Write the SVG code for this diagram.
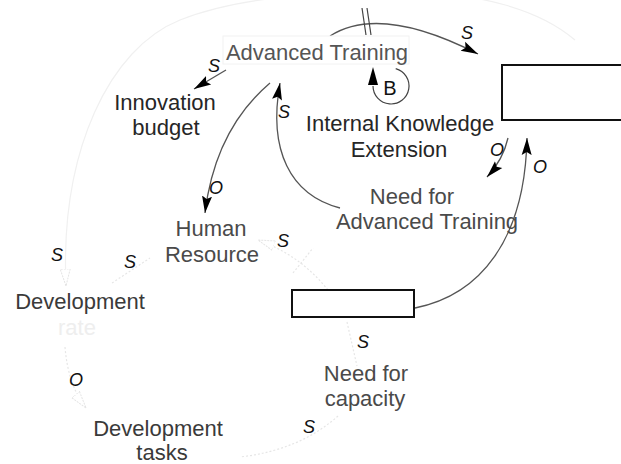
<svg xmlns="http://www.w3.org/2000/svg" width="621" height="464" viewBox="0 0 621 464">
<style>
  .node { font-family: "Liberation Sans", Arial, sans-serif; font-size: 22px; text-anchor: middle; }
  .dark { fill: #262626; }
  .mid { fill: #4a4a4a; }
  .faint { fill: #eeeeee; }
  .lbl { font-family: "Liberation Sans", Arial, sans-serif; font-size: 18px; font-style: italic; fill: #111; text-anchor: middle; }
  .link { fill: none; stroke: #555; stroke-width: 1.3; }
  .flink { fill: none; stroke: #e6e6e6; stroke-width: 1.2; stroke-dasharray: 2 2; }
  .blink { fill: none; stroke: #f0f0f0; stroke-width: 1.2; }
  .stock { fill: #fff; stroke: #111; stroke-width: 2; }
</style>
<defs>
  <marker id="ah" markerUnits="userSpaceOnUse" markerWidth="18" markerHeight="12" refX="17" refY="6" orient="auto">
    <path d="M0,1 L17,6 L0,11 L3,6 z" fill="#000"/>
  </marker>
  <marker id="fah" markerUnits="userSpaceOnUse" markerWidth="18" markerHeight="12" refX="17" refY="6" orient="auto">
    <path d="M0,1 L17,6 L0,11 z" fill="#fff" stroke="#e4e4e4" stroke-width="1" stroke-dasharray="2 1"/>
  </marker>
</defs>

<g id="connectors">
  <!-- faint big arc -->
  <path class="blink" d="M575,40 C540,10 480,-8 400,-8 C300,-8 230,0 180,20 C110,48 60,150 66,286" marker-end="url(#fah)"/>
  <!-- Advanced Training -> stock (top) -->
  <path class="link" d="M330,36 Q380,4 478,54" marker-end="url(#ah)"/>
  <line x1="362" y1="8" x2="366" y2="35" stroke="#444" stroke-width="1.2"/>
  <line x1="367" y1="8" x2="371" y2="35" stroke="#444" stroke-width="1.2"/>
  <!-- Advanced Training -> Innovation budget -->
  <path class="link" d="M226,70 L194,89" marker-end="url(#ah)"/>
  <!-- Advanced Training -> Human Resource -->
  <path class="link" d="M270,83 Q215,130 205,213" marker-end="url(#ah)"/>
  <!-- Need for Advanced Training -> Advanced Training -->
  <path class="link" d="M340,208 C290,195 268,150 280,83" marker-end="url(#ah)"/>
  <!-- stock -> Need for Advanced Training -->
  <path class="link" d="M508,138 Q503,160 487,177" marker-end="url(#ah)"/>
  <!-- middle stock -> top stock -->
  <path class="link" d="M415,308 C480,295 525,240 527,138" marker-end="url(#ah)"/>
  <!-- faint links -->
  <path class="flink" d="M328,290 Q300,255 258,240" marker-end="url(#fah)"/>
  <line class="flink" x1="293" y1="273" x2="313" y2="248"/>
  <path class="flink" d="M347,322 L357,366"/>
  <path class="flink" d="M338,416 Q300,450 240,457"/>
  <path class="flink" d="M112,283 L150,258"/>
  <path class="flink" d="M65,347 Q68,385 86,408" marker-end="url(#fah)"/>
  <!-- labels -->
  <text class="lbl" x="467" y="39">S</text>
  <text class="lbl" x="214" y="72">S</text>
  <text class="lbl" x="216" y="194">O</text>
  <text class="lbl" x="284" y="118">S</text>
  <text class="lbl" x="497" y="156">O</text>
  <text class="lbl" x="540" y="173">O</text>
  <text class="lbl" x="283" y="247">S</text>
  <text class="lbl" x="130" y="268">S</text>
  <text class="lbl" x="57" y="261">S</text>
  <text class="lbl" x="76" y="386">O</text>
  <text class="lbl" x="363" y="348">S</text>
  <text class="lbl" x="309" y="433">S</text>
</g>

<g id="loop-B">
  <path d="M395.7,68.6 A18,18 0 1 1 373,86" fill="none" stroke="#444" stroke-width="1.2"/>
  <polygon points="373,67 368,85 378,85" fill="#000"/>
  <text x="390" y="95" font-family="Liberation Sans, Arial, sans-serif" font-size="20" fill="#111" text-anchor="middle">B</text>
</g>

<g id="advanced-training">
  <rect x="223" y="36" width="186" height="28" fill="#fff" stroke="#f2f2f2" stroke-width="1"/>
  <text class="node" x="317" y="60" fill="#555">Advanced Training</text>
</g>

<g id="innovation-budget">
  <text class="node dark" x="165" y="110">Innovation</text>
  <text class="node dark" x="166" y="135">budget</text>
</g>

<g id="human-resource">
  <text class="node mid" x="211" y="236">Human</text>
  <text class="node mid" x="212" y="262">Resource</text>
</g>

<g id="internal-knowledge-extension">
  <text class="node dark" x="400" y="131">Internal Knowledge</text>
  <text class="node dark" x="399" y="157">Extension</text>
</g>

<g id="need-for-advanced-training">
  <text class="node mid" x="412" y="204">Need for</text>
  <text class="node mid" x="427" y="229">Advanced Training</text>
</g>

<g id="stock-top">
  <rect class="stock" x="502" y="65" width="130" height="55"/>
</g>

<g id="stock-middle">
  <rect class="stock" x="292" y="290" width="122" height="27"/>
</g>

<g id="development-rate">
  <text class="node" x="80" y="309" fill="#3a3a3a">Development</text>
  <text class="node faint" x="77" y="335">rate</text>
</g>

<g id="need-for-capacity">
  <text class="node mid" x="366" y="381">Need for</text>
  <text class="node mid" x="365" y="406">capacity</text>
</g>

<g id="development-tasks">
  <text class="node" x="158" y="436" fill="#3a3a3a" font-size="21">Development</text>
  <text class="node" x="162" y="460" fill="#3a3a3a" font-size="21">tasks</text>
</g>
</svg>
